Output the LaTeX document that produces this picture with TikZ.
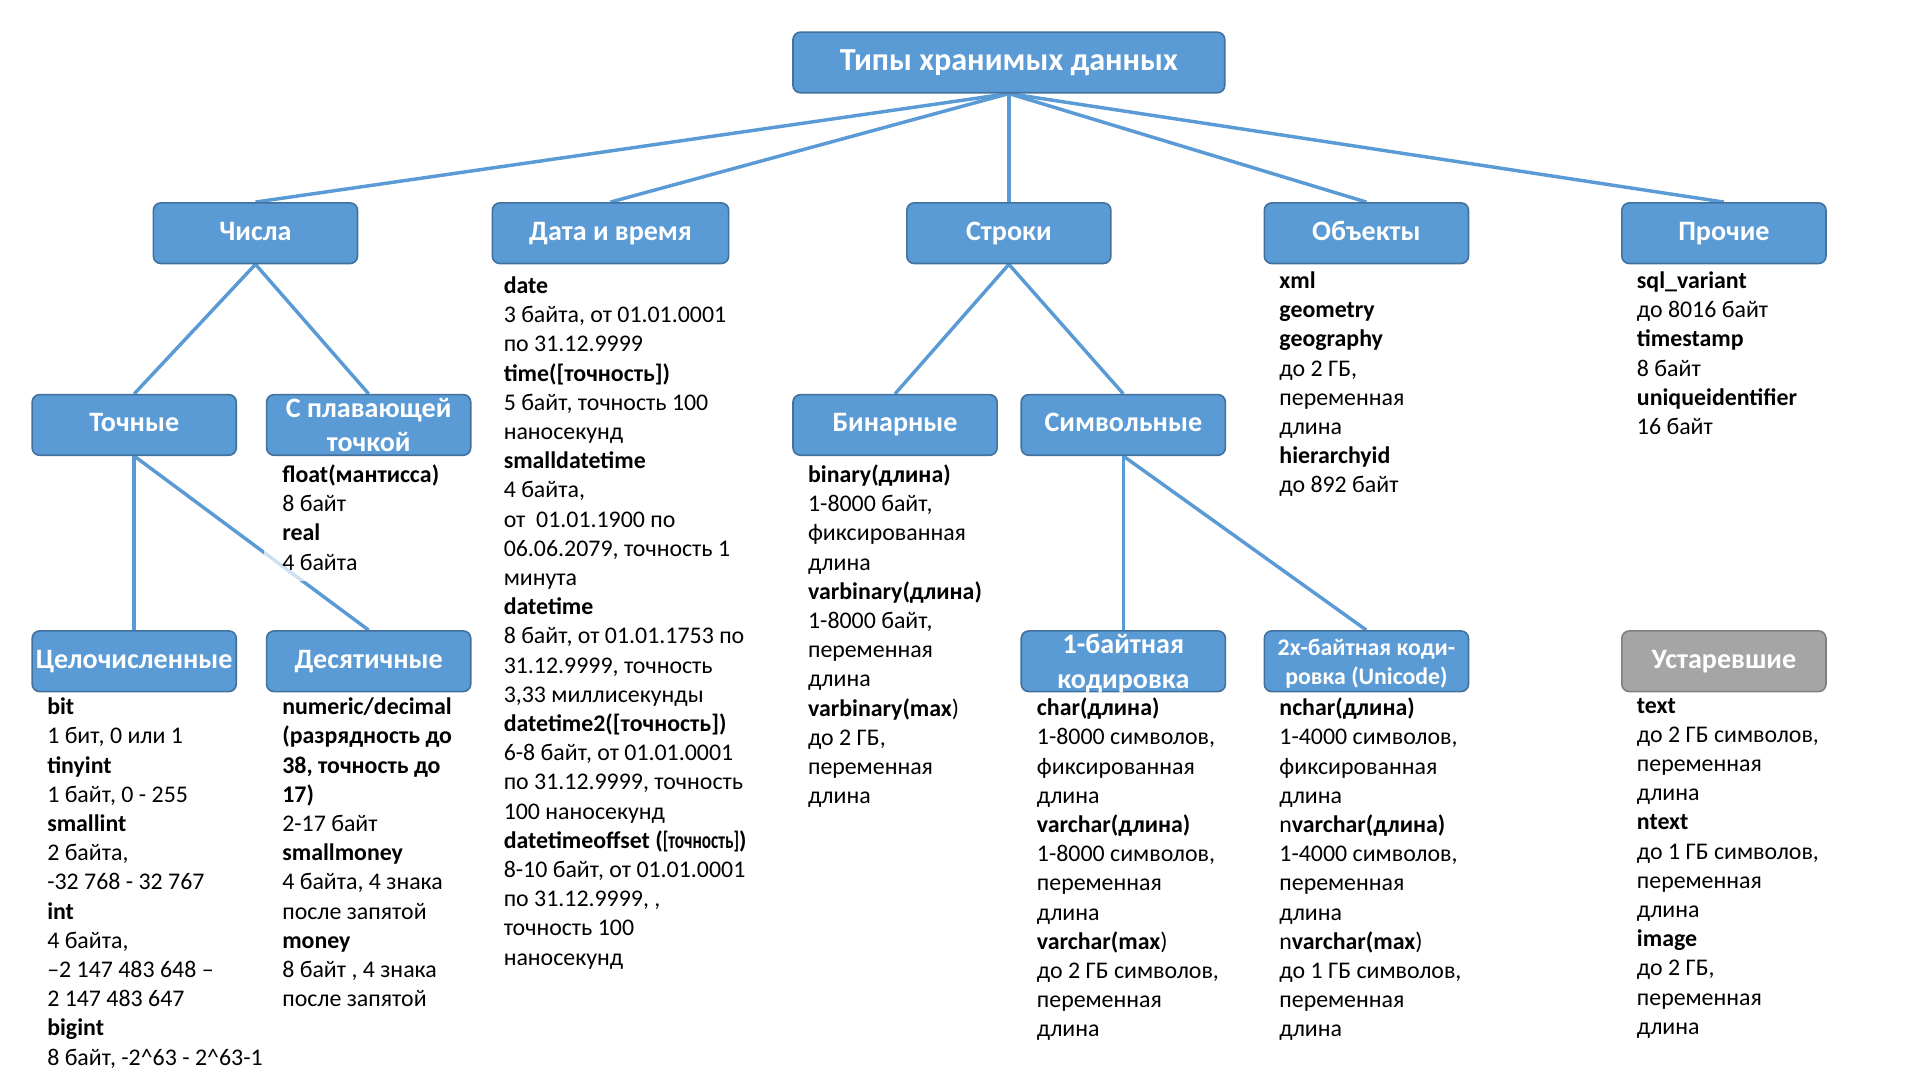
\documentclass[tikz,border=0pt]{standalone}
\usepackage{fontspec}
\setmainfont{Carlito}
\usepackage{graphicx}
\usetikzlibrary{backgrounds}
\definecolor{boxfill}{HTML}{5B9BD5}
\definecolor{boxline}{HTML}{41719C}
\definecolor{oldfill}{HTML}{A5A5A5}
\definecolor{oldline}{HTML}{7F7F7F}
\definecolor{linkblue}{HTML}{5B9BD5}
\newcommand\headfont{\fontsize{26}{31}\selectfont\bfseries}
\newcommand\boxfont{\fontsize{22.7}{27.7}\selectfont\bfseries}
\newcommand\smallboxfont{\fontsize{19.2}{23}\selectfont\bfseries}
\newcommand\infofont{\fontsize{19.3}{23.6}\selectfont}
\newcommand\twolines[2]{\smash{\raisebox{-2pt}{\begin{tabular}{@{}c@{}}#1\\#2\end{tabular}}}}
\newcommand\squeezed[1]{\scalebox{0.72}[1]{#1}}
\begin{document}
\begin{tikzpicture}[x=1pt,y=-1pt,
  typebox/.style={draw=boxline, fill=boxfill, line width=1.3pt, rounded corners=6pt,
    minimum width=165pt, minimum height=49pt, inner sep=0pt, text=white,
    font=\boxfont, text height=16pt, text depth=5pt},
  oldbox/.style={typebox, draw=oldline, fill=oldfill},
  info/.style={anchor=north west, inner sep=0pt, align=left, font=\infofont,
    execute at begin node=\strut},
  link/.style={draw=linkblue, line width=2.8pt}]
\useasboundingbox (0,0) rectangle (1552,873);

\node[typebox, minimum width=349pt, font=\headfont, text height=19pt, text depth=6pt] (root) at (815.5,50.5) {Типы хранимых данных};

\node[typebox] (numbers) at (206.5,188.5) {Числа};
\node[typebox, minimum width=191pt] (datetime) at (493.5,188.5) {Дата и время};
\node[typebox] (strings) at (815.5,188.5) {Строки};
\node[typebox] (objects) at (1104.5,188.5) {Объекты};
\node[typebox] (other) at (1393.5,188.5) {Прочие};

\node[typebox] (exact) at (108.5,343.5) {Точные};
\node[typebox] (floating) at (298,343.5) {\twolines{С плавающей}{точкой}};
\node[typebox] (binary) at (723.5,343.5) {Бинарные};
\node[typebox] (symbol) at (908,343.5) {Символьные};

\node[typebox] (integer) at (108.5,534.5) {Целочисленные};
\node[typebox] (decimal) at (298,534.5) {Десятичные};
\node[typebox] (onebyte) at (908,534.5) {\twolines{1-байтная}{кодировка}};
\node[typebox, font=\smallboxfont] (twobyte) at (1104.5,534.5) {\twolines{2х-байтная коди-}{ровка (Unicode)}};
\node[oldbox] (legacy) at (1393.5,534.5) {Устаревшие};

\begin{scope}[on background layer]
\foreach \kid in {numbers,datetime,strings,objects,other}
  \draw[link] (root.south) -- (\kid.north);
\foreach \parent/\kid in {numbers/exact, numbers/floating, exact/integer, exact/decimal,
    strings/binary, strings/symbol, symbol/onebyte, symbol/twobyte}
  \draw[link] (\parent.south) -- (\kid.north);
\end{scope}

\node[info] (datetimeinfo) at (407,223.5) {\textbf{date}\\
3 байта, от 01.01.0001\\
по 31.12.9999\\
\textbf{time([точность])}\\
5 байт, точность 100\\
наносекунд\\
\textbf{smalldatetime}\\
4 байта,\\
от\ \ 01.01.1900 по\\
06.06.2079, точность 1\\
минута\\
\textbf{datetime}\\
8 байт, от 01.01.1753 по\\
31.12.9999, точность\\
3,33 миллисекунды\\
\textbf{datetime2([точность])}\\
6-8 байт, от 01.01.0001\\
по 31.12.9999, точность\\
100 наносекунд\\
\textbf{datetimeoffset (\squeezed{[точность]})}\\
8-10 байт, от 01.01.0001\\
по 31.12.9999, ,\\
точность 100\\
наносекунд};

\node[info] (objectsinfo) at (1034,219.5) {\textbf{xml}\\
\textbf{geometry}\\
\textbf{geography}\\
до 2 ГБ,\\
переменная\\
длина\\
\textbf{hierarchyid}\\
до 892 байт};

\node[info] (otherinfo) at (1323,219.5) {\textbf{sql\_variant}\\
до 8016 байт\\
\textbf{timestamp}\\
8 байт\\
\textbf{uniqueidentifier}\\
16 байт};

\node[info, inner xsep=15pt, inner ysep=2pt, fill=white, fill opacity=0.7, text opacity=1] (floatinfo) at (213,373.5) {\textbf{float(мантисса)}\\
8 байт\\
\textbf{real}\\
4 байта};

\node[info] (binaryinfo) at (653,375.5) {\textbf{binary(длина)}\\
1-8000 байт,\\
фиксированная\\
длина\\
\textbf{varbinary(длина)}\\
1-8000 байт,\\
переменная\\
длина\\
\textbf{varbinary(max}) \\
до 2 ГБ,\\
переменная\\
длина};

\node[info] (integerinfo) at (38,564) {\textbf{bit}\\
1 бит, 0 или 1\\
\textbf{tinyint}\\
1 байт, 0 - 255\\
\textbf{smallint}\\
2 байта,\\
-32 768 - 32 767\\
\textbf{int}\\
4 байта,\\
–2 147 483 648 –\\
2 147 483 647\\
\textbf{bigint}\\
8 байт, -2\textasciicircum 63 - 2\textasciicircum 63-1};

\node[info] (decimalinfo) at (228,564) {\textbf{numeric/decimal}\\
\textbf{(разрядность до}\\
\textbf{38, точность до}\\
\textbf{17)}\\
2-17 байт\\
\textbf{smallmoney}\\
4 байта, 4 знака\\
после запятой\\
\textbf{money}\\
8 байт , 4 знака\\
после запятой};

\node[info] (onebyteinfo) at (838,564) {\textbf{char(длина)}\\
1-8000 символов,\\
фиксированная\\
длина\\
\textbf{varchar(длина)}\\
1-8000 символов,\\
переменная\\
длина\\
\textbf{varchar(max})\\
до 2 ГБ символов,\\
переменная\\
длина};

\node[info] (twobyteinfo) at (1034,564) {\textbf{nchar(длина)}\\
1-4000 символов,\\
фиксированная\\
длина\\
n\textbf{varchar(длина)}\\
1-4000 символов,\\
переменная\\
длина\\
n\textbf{varchar(max})\\
до 1 ГБ символов,\\
переменная\\
длина};

\node[info] (legacyinfo) at (1323,564) {\textbf{text}\\
до 2 ГБ символов,\\
переменная\\
длина\\
\textbf{ntext}\\
до 1 ГБ символов,\\
переменная\\
длина\\
\textbf{image}\\
до 2 ГБ,\\
переменная\\
длина};
\end{tikzpicture}
\end{document}
